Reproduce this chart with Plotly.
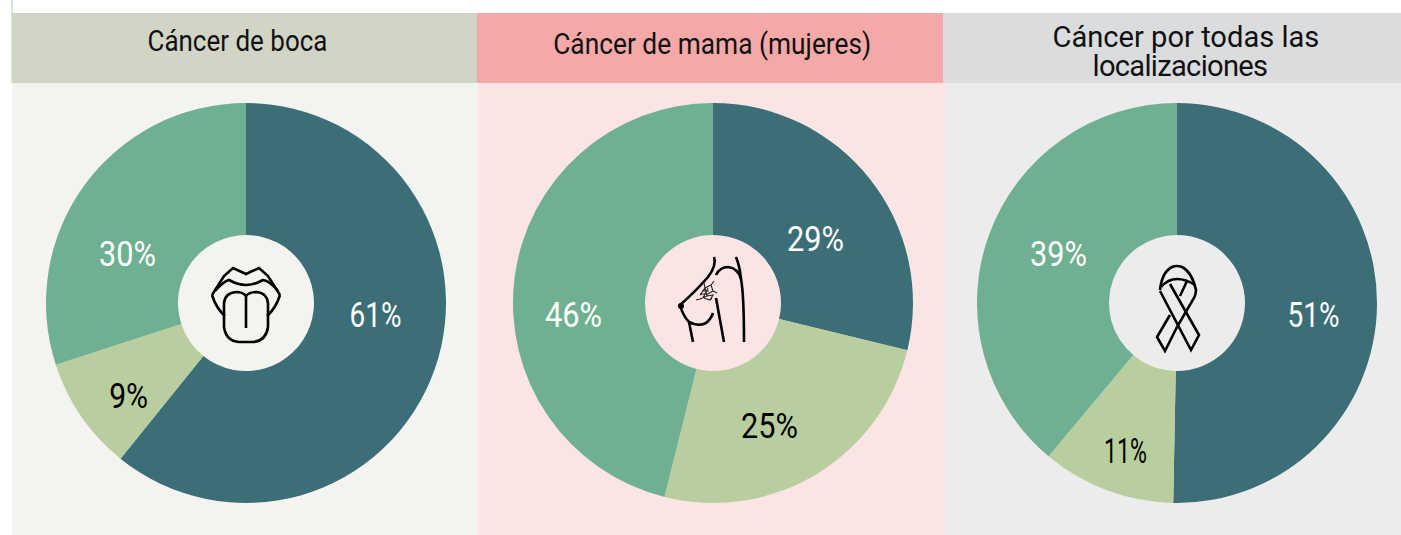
import plotly.graph_objects as go

W, H = 1401, 535
titles = ["Cáncer de boca", "Cáncer de mama (mujeres)", "Cáncer por todas las<br>localizaciones"]
slices = ["a", "b", "c"]
boca = [60.8, 9.2, 30.0]
mama = [28.8, 25.1, 46.1]
todas = [50.3, 10.8, 38.9]
boca_labels = ["61%", "9%", "30%"]
mama_labels = ["29%", "25%", "46%"]
todas_labels = ["51%", "11%", "39%"]
series = [boca, mama, todas]
labels = [boca_labels, mama_labels, todas_labels]
colors = ["#3C6E78", "#B9CE9F", "#70B092"]

centers = [246, 713, 1177]
R = 200
CY = 303
HOLE = 0.34

head_x = [(12, 477), (477, 943), (943, 1401)]
body_x = [(12, 478), (478, 945), (945, 1401)]
head_cols = ["#D2D5C6", "#F4A9A8", "#DBDCDE"]
body_cols = ["#F3F4EF", "#FBE4E4", "#ECECEC"]
title_pos = [(237, 41), (712, 44), (1182.5, 51.5)]
label_pos = [
    [(375, 315), (128, 396), (127.5, 254)],
    [(815, 239), (769, 426), (573.5, 315)],
    [(1313, 315), (1125, 451), (1058, 254)],
]
label_cols = ["white", "black", "white"]
FONT = "Roboto, sans-serif"

fig = go.Figure()
for i, vals in enumerate(series):
    cx = centers[i]
    fig.add_trace(go.Pie(
        labels=slices, values=vals, sort=False, direction="clockwise", rotation=0,
        hole=HOLE, marker=dict(colors=colors, line=dict(width=0)),
        textinfo="none", hoverinfo="none", showlegend=False,
        domain=dict(x=[(cx - R) / W, (cx + R) / W], y=[(H - CY - R) / H, (H - CY + R) / H]),
    ))

shapes = [dict(type="rect", xref="x", yref="y", x0=11, x1=13, y0=0, y1=83,
               fillcolor="#D5E8DF", line_width=0, layer="below")]
annos = []
for i in range(3):
    shapes.append(dict(type="rect", xref="x", yref="y", x0=body_x[i][0], x1=body_x[i][1], y0=83, y1=H,
                       fillcolor=body_cols[i], line_width=0, layer="below"))
    shapes.append(dict(type="rect", xref="x", yref="y", x0=head_x[i][0], x1=head_x[i][1], y0=13, y1=83,
                       fillcolor=head_cols[i], line_width=0, layer="below"))
    tx, ty = title_pos[i]
    annos.append(dict(xref="x", yref="y", x=tx, y=ty, text=titles[i], showarrow=False,
                      xanchor="center", yanchor="middle",
                      font=dict(family=FONT, size=29, color="#111111")))
    for j, lab in enumerate(labels[i]):
        lx, ly = label_pos[i][j]
        annos.append(dict(xref="x", yref="y", x=lx, y=ly, text=lab, showarrow=False,
                          xanchor="center", yanchor="middle",
                          font=dict(family=FONT, size=35, color=label_cols[j])))

icon_paths = [
    # lips and tongue
    "M212,295 L224,276 L233,268 L246,274 L259,268 L268,276 L280,295",
    "M215,291 Q224,281 229,280 Q238,285 246,285 Q254,285 263,280 Q270,281 278,291",
    "M212,295 Q216,308 225,316", "M280,295 Q276,308 267,316",
    "M224,327 L224,303 Q225,293 236,292 Q243,292 246,296 Q249,292 257,292 Q267,293 268,303 L268,327 Q266,341 253,342 L239,342 Q226,341 224,327 Z",
    "M246,294 L246,328",
    # breast
    "M714,257 Q717,265 708,277 Q696,291 680,305",
    "M680,305 Q683,316 689,322 Q698,327 706,323 Q711,319 713,313",
    "M689,322 L693,342",
    "M716,275 Q720,267 728,267 Q738,268 741,279 Q744,295 744,342",
    "M736,257 Q740,267 741,279",
    "M716,298 L724,342",
    # ribbon
    "M1160,290 Q1162,272 1172,267 Q1177,265 1182,267 Q1192,272 1196,290 Q1196,294 1194,298 L1177,327",
    "M1161,287 Q1168,279 1177,279 Q1186,279 1195,285",
    "M1160,291 L1191,350 L1199,335 L1170,284",
    "M1177,327 L1165,351 L1157,337 L1170,315",
    "M1187,281 L1180,296",
]
for p in icon_paths:
    shapes.append(dict(type="path", xref="x", yref="y", path=p, layer="above",
                       line=dict(color="black", width=2.6)))
shapes.append(dict(type="circle", xref="x", yref="y", x0=678, x1=684, y0=303, y1=309,
                   fillcolor="black", line_width=0, layer="above"))
net = ("M700,295 L705,288 L711,285 L713,291 L708,294 L702,294 Z M705,288 L707,296 L700,299 "
       "M711,285 L714,281 M713,291 L717,293 M707,296 L713,295 L710,300 L704,298 M700,299 L696,300 "
       "M704,283 L705,288 M710,300 L712,298 M702,291 L709,291 M703,298 L708,288")
shapes.append(dict(type="path", xref="x", yref="y", path=net, layer="above",
                   line=dict(color="#222222", width=1.1)))

fig.update_layout(
    width=W, height=H, margin=dict(l=0, r=0, t=0, b=0),
    paper_bgcolor="white", plot_bgcolor="white",
    xaxis=dict(range=[0, W], visible=False, fixedrange=True),
    yaxis=dict(range=[H, 0], visible=False, fixedrange=True),
    shapes=shapes, annotations=annos,
)

# The reference face is a narrow DIN-style font: condense the real text horizontally.
post = """
document.body.style.margin='0';document.body.style.overflow='hidden';
var targets={'Cáncer de boca':180,'Cáncer de mama (mujeres)':318,'9%':39,'11%':43,'61%':52,'51%':52};
document.querySelectorAll('.annotation-text').forEach(function(t){
  var s=t.textContent, lines=t.querySelectorAll('tspan.line');
  if(lines.length==2){
    var b0=t.getBBox(), k=267/lines[0].getComputedTextLength();
    var extra=(175/k-lines[1].getComputedTextLength())/lines[1].textContent.length;
    lines[1].style.letterSpacing=extra+'px';
    lines[1].setAttribute('dy','1em');
    var x=parseFloat(lines[0].getAttribute('x'));
    lines[0].setAttribute('x',x+3/k);
    lines[1].setAttribute('x',x-3/k);
    var b=t.getBBox(), cx=x, cy=b0.y+b0.height/2, dy=cy-(b.y+b.height/2);
    t.setAttribute('transform','translate(0,'+dy+') translate('+cx+',0) scale('+k+',1) translate('+(-cx)+',0)');
    return;
  }
  var b=t.getBBox(), cx=b.x+b.width/2;
  var k=(targets[s]||57)/b.width;
  t.setAttribute('transform','translate('+cx+',0) scale('+k+',1) translate('+(-cx)+',0)');
});
"""
fig.write_html("out.html", config={"displayModeBar": False}, post_script=post)
